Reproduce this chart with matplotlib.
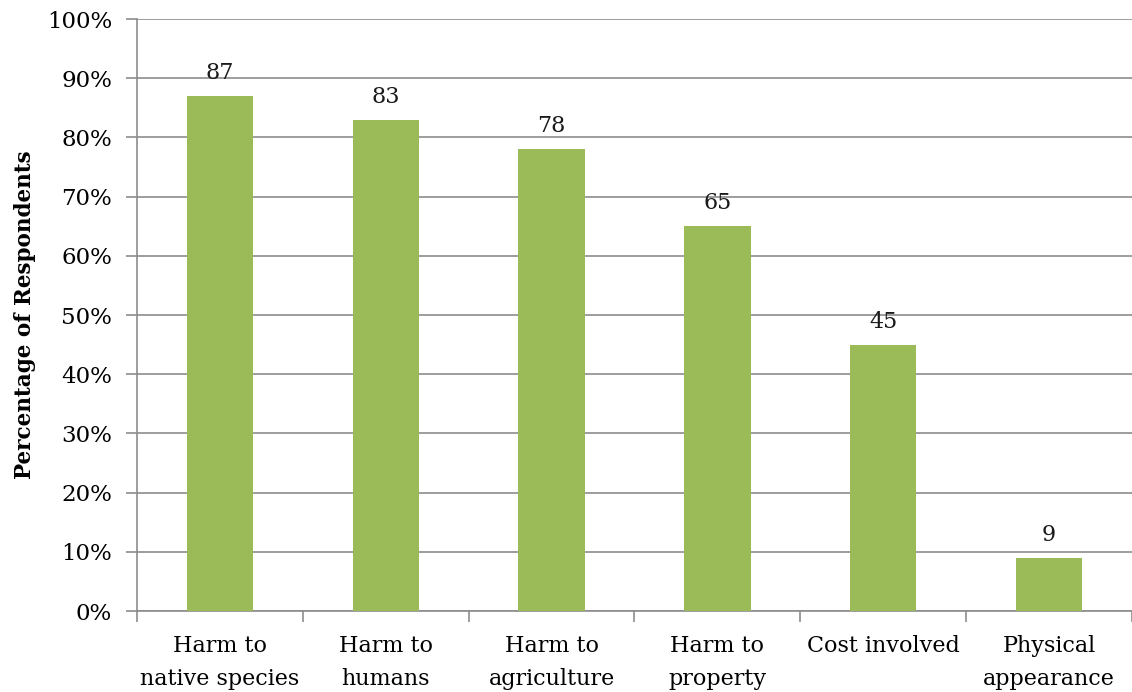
import matplotlib
matplotlib.use("Agg")
import matplotlib.pyplot as plt
from matplotlib.ticker import FuncFormatter, FixedLocator
import numpy as np

categories = ["Harm to\nnative species", "Harm to\nhumans", "Harm to\nagriculture",
              "Harm to\nproperty", "Cost involved", "Physical\nappearance"]
values = [87, 83, 78, 65, 45, 9]
y_ticks = [0, 10, 20, 30, 40, 50, 60, 70, 80, 90, 100]

BAR = "#9BBB59"
AXIS = "#8c8c8c"
plt.rcParams["font.family"] = ["DejaVu Serif"]

fig = plt.figure(figsize=(11.32, 6.92), dpi=100)
ax = fig.add_axes([137 / 1132, 1 - 611 / 692, 1 - 137 / 1132, (611 - 19) / 692])

x = np.arange(len(categories))
ax.bar(x, values, width=0.4, color=BAR, zorder=3)
for xi, v in zip(x, values):
    ax.text(xi, v + 2.0, f"{v}", ha="center", va="bottom", fontsize=16, color="#1a1a1a")

ax.set_xlim(-0.5, len(categories) - 0.5)
ax.set_ylim(0, 100)
ax.set_yticks(y_ticks)
ax.yaxis.set_major_formatter(FuncFormatter(lambda v, _: f"{v:.0f}%"))
ax.grid(axis="y", color=AXIS, lw=1.2, zorder=0)

# category labels centred under bars, tick marks between categories
ax.set_xticks(x)
ax.set_xticklabels(categories, fontsize=16, linespacing=1.65)
ax.tick_params(axis="x", length=0, pad=17)
ax.xaxis.set_minor_locator(FixedLocator(np.arange(-0.5, len(categories), 1.0)))
ax.tick_params(axis="x", which="minor", length=8, width=1.2, color=AXIS)
ax.tick_params(axis="y", length=8, width=1.2, color=AXIS, labelsize=16.5, pad=10)

for side in ["top", "right"]:
    ax.spines[side].set_visible(False)
for side in ["left", "bottom"]:
    ax.spines[side].set_color(AXIS)
    ax.spines[side].set_linewidth(1.2)

ax.set_ylabel("Percentage of Respondents", fontsize=15.5, fontweight="bold", labelpad=8)

fig.savefig("out.png", dpi=100)
